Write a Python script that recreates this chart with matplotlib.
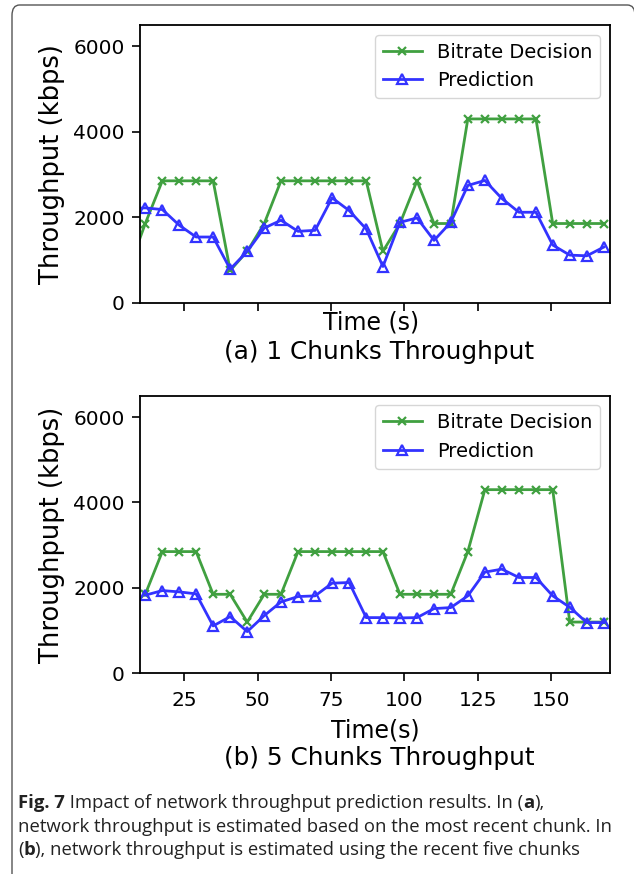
import matplotlib
matplotlib.use("Agg")
import matplotlib.pyplot as plt
from matplotlib.patches import FancyBboxPatch

plt.rcParams["font.family"] = ["DejaVu Sans"]

# chunk times (s)
time_a = [6.0, 11.8, 17.6, 23.4, 29.1, 34.9, 40.7, 46.5, 52.3, 58.0, 63.8, 69.6, 75.4, 81.2,
          87.0, 92.7, 98.5, 104.3, 110.1, 115.8, 121.6, 127.4, 133.2, 139.0, 144.8,
          150.5, 156.3, 162.1, 167.9]
time_b = time_a[1:]

# (a) 1 chunk throughput
bitrate_a = [750, 1850, 2850, 2850, 2850, 2850, 750, 1200, 1850, 2850, 2850, 2850, 2850, 2850,
             2850, 1200, 1850, 2850, 1850, 1850, 4300, 4300, 4300, 4300, 4300,
             1850, 1850, 1850, 1850]
pred_a = [2200, 2216, 2177, 1808, 1534, 1534, 781, 1196, 1745, 1926, 1667, 1690, 2451, 2153,
          1722, 843, 1878, 1981, 1455, 1878, 2741, 2859, 2435, 2114, 2114,
          1346, 1110, 1094, 1298]

# (b) 5 chunks throughput
bitrate_b = [1850, 2850, 2850, 2850, 1850, 1850, 1200, 1850, 1850, 2850, 2850, 2850, 2850, 2850,
             2850, 1850, 1850, 1850, 1850, 2850, 4300, 4300, 4300, 4300, 4300,
             1200, 1200, 1200]
pred_b = [1829, 1937, 1906, 1860, 1109, 1328, 976, 1351, 1672, 1797, 1813, 2110, 2126, 1304,
          1304, 1297, 1304, 1515, 1539, 1813, 2369, 2439, 2243, 2243, 1813,
          1547, 1187, 1187]

x_ticks = [25, 50, 75, 100, 125, 150]
y_ticks = [0, 2000, 4000, 6000]

green = "#40a040"
blue = "#3333ff"

W, H = 634, 874
fig = plt.figure(figsize=(W / 100, H / 100), dpi=100)


def px_axes(left, top, right, bottom):
    return [left / W, 1 - bottom / H, (right - left) / W, (bottom - top) / H]


ax_a = fig.add_axes(px_axes(140, 25, 610, 302.5))
ax_b = fig.add_axes(px_axes(140, 395.7, 610, 673.3))

panels = [
    (ax_a, time_a, bitrate_a, pred_a, "Throughput (kbps)", False),
    (ax_b, time_b, bitrate_b, pred_b, "Throughpupt (kbps)", True),
]

for ax, t, br, pr, ylab, show_xt in panels:
    ax.plot(t, br, color=green, marker="x", markersize=6, markeredgewidth=1.6,
            linewidth=2, label="Bitrate Decision")
    ax.plot(t, pr, color=blue, marker="^", markersize=7, markeredgewidth=1.6,
            markerfacecolor="none", linewidth=2, label="Prediction")
    ax.set_xlim(10, 170)
    ax.set_ylim(0, 6500)
    ax.set_xticks(x_ticks)
    ax.set_yticks(y_ticks)
    if not show_xt:
        ax.set_xticklabels([])
    ax.tick_params(labelsize=14.5, length=6, width=1.2, pad=5)
    ax.tick_params(axis="x", pad=7)
    for s in ax.spines.values():
        s.set_linewidth(1.3)
    ax.set_ylabel(ylab, fontsize=18.5, labelpad=6)
    ax.legend(loc="upper right", fontsize=14, framealpha=0.8, edgecolor="0.8",
              borderaxespad=0.5)

fig.text(371 / W, 1 - 322.7 / H, "Time (s)", fontsize=17, ha="center", va="center")
fig.text(379 / W, 1 - 351.7 / H, "(a) 1 Chunks Throughput", fontsize=17.8, ha="center", va="center")
fig.text(375 / W, 1 - 730.7 / H, "Time(s)", fontsize=17, ha="center", va="center")
fig.text(379 / W, 1 - 758.3 / H, "(b) 5 Chunks Throughput", fontsize=17.8, ha="center", va="center")

# page frame
frame = FancyBboxPatch((12 / W, -0.1), (635 - 12) / W, 1 - 5 / H + 0.1,
                       boxstyle="round,pad=0,rounding_size=0.012",
                       transform=fig.transFigure, fill=False,
                       edgecolor="#555555", linewidth=1.0)
fig.patches.append(frame)

# caption with bold runs
cap_font = "Open Sans"
cap_size = 13.3
caption = [
    [("Fig. 7", "bold"), (" Impact of network throughput prediction results. In (", "normal"),
     ("a", "bold"), ("),", "normal")],
    [("network throughput is estimated based on the most recent chunk. In", "normal")],
    [("(", "normal"), ("b", "bold"), ("), network throughput is estimated using the recent five chunks", "normal")],
]
line_y = [803, 826.5, 850]

renderer = fig.canvas.get_renderer()
for runs, y in zip(caption, line_y):
    x = 18
    for s, w in runs:
        txt = fig.text(x / W, 1 - y / H, s, fontsize=cap_size, fontweight=w,
                       family=cap_font, ha="left", va="center", color="#222222")
        x += txt.get_window_extent(renderer).width

fig.savefig("out.png", dpi=100)
